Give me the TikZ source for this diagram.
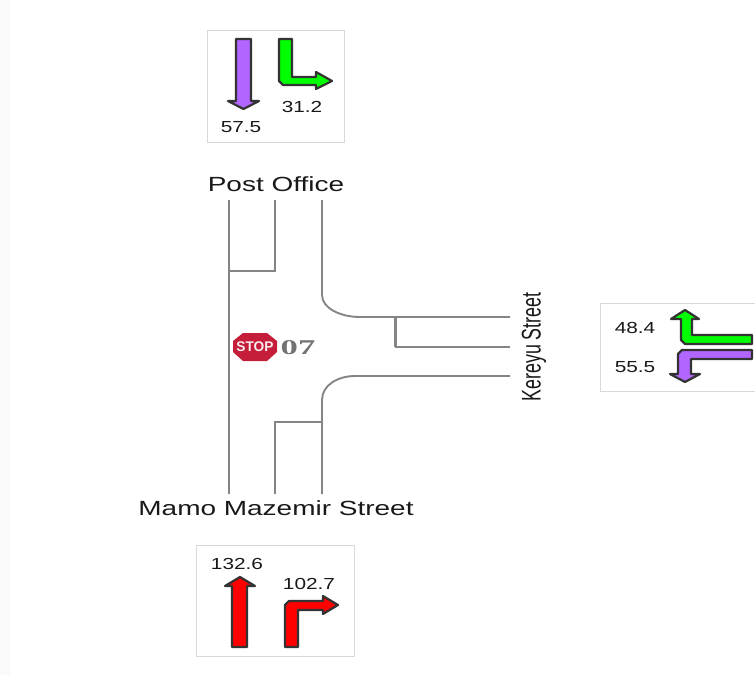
\documentclass[tikz,border=0pt]{standalone}
\usepackage{fontspec}
\setmainfont{Liberation Sans}
\newfontfamily\serifb{Liberation Serif}
\tikzset{
  road/.style={draw=black!48,line width=1.9pt,line join=miter},
  panel/.style={draw=black!15,line width=1pt,fill=white},
  arrowshape/.style={draw=black!80,line width=2.2pt,line join=round},
  val/.style={inner sep=0pt,font=\fontsize{16}{16}\selectfont,text=black!90,xscale=1.3},
  lbl/.style={inner sep=0pt,font=\fontsize{20.5}{20.5}\selectfont,text=black!90,xscale=1.365},
}
\definecolor{pur}{HTML}{B266FF}
\definecolor{grn}{HTML}{00FF00}
\definecolor{stopred}{HTML}{C41E3A}
\begin{document}
\begin{tikzpicture}[x=1pt,y=-1pt]
\useasboundingbox (0,0) rectangle (755,675);
\fill[black!2] (0,0) rectangle (10,675);
% panels
\path[panel] (207,30) rectangle (344,142);
\path[panel] (600,303) rectangle (760,391);
\path[panel] (196,545) rectangle (354,656);
% top panel arrows
\path[arrowshape,fill=pur] (236,39) -- (251,39) -- (251,101) -- (259,101) -- (243.5,109) -- (228,101) -- (236,101) -- cycle;
\path[arrowshape,fill=grn] (279,39) -- (292,39) -- (292,77) -- (316,77) -- (316,72) -- (332,81) -- (316,89) -- (316,85) -- (283,85) -- (279,81) -- cycle;
\node[val] (t1) at (241,127) {57.5};
\node[val] (t2) at (302,107) {31.2};
% right panel arrows
\path[arrowshape,fill=grn] (685,310) -- (699,319) -- (692,319) -- (692,335) -- (752,335) -- (752,344) -- (685,344) -- (681,340) -- (681,319) -- (671,319) -- cycle;
\path[arrowshape,fill=pur] (752,350) -- (752,359) -- (691,359) -- (691,374) -- (700,374) -- (685,382) -- (670,374) -- (678,374) -- (678,354) -- (682,350) -- cycle;
\node[val] (r1) at (635,328) {48.4};
\node[val] (r2) at (635,367) {55.5};
% bottom panel arrows
\path[arrowshape,fill=red] (240,577) -- (255,586) -- (247,586) -- (247,647) -- (232,647) -- (232,586) -- (225,586) -- cycle;
\path[arrowshape,fill=red] (285,647) -- (285,605) -- (289,601) -- (323,601) -- (323,596) -- (338,605) -- (323,614) -- (323,610) -- (298,610) -- (298,647) -- cycle;
\node[val] (b1) at (237,564) {132.6};
\node[val] (b2) at (309,584) {102.7};
% roads
\draw[road] (229,200) -- (229,494);
\draw[road] (275,200) -- (275,271) -- (229,271);
\draw[road] (322,200) -- (322,295) .. controls (322,308) and (340,317) .. (360,317) -- (510,317);
\draw[road,line width=3pt] (395,317) -- (395,347);
\draw[road] (395,347) -- (510,347);
\draw[road] (510,376) -- (355,376) .. controls (338,376) and (322,385) .. (322,400) -- (322,494);
\draw[road] (275,494) -- (275,422) -- (322,422);
% stop sign
\fill[stopred] (243,333) -- (267,333) -- (277,341) -- (277,352) -- (267,361) -- (243,361) -- (233,352) -- (233,341) -- cycle;
\node[inner sep=0pt,text=white!92!stopred,font=\bfseries\fontsize{14}{14}\selectfont,xscale=0.98] (stop) at (255,347) {STOP};
\node[inner sep=0pt,text=black!55,font=\serifb\bfseries\fontsize{21}{21}\selectfont,xscale=1.65] (num) at (298,348) {07};
% labels
\node[lbl] (po) at (276,184) {Post Office};
\node[lbl] (mm) at (276,508) {Mamo Mazemir Street};
\node[inner sep=0pt,font=\fontsize{27}{27}\selectfont,text=black!90,rotate=90,xscale=0.66] (ku) at (534,347) {Kereyu Street};
\end{tikzpicture}
\end{document}
